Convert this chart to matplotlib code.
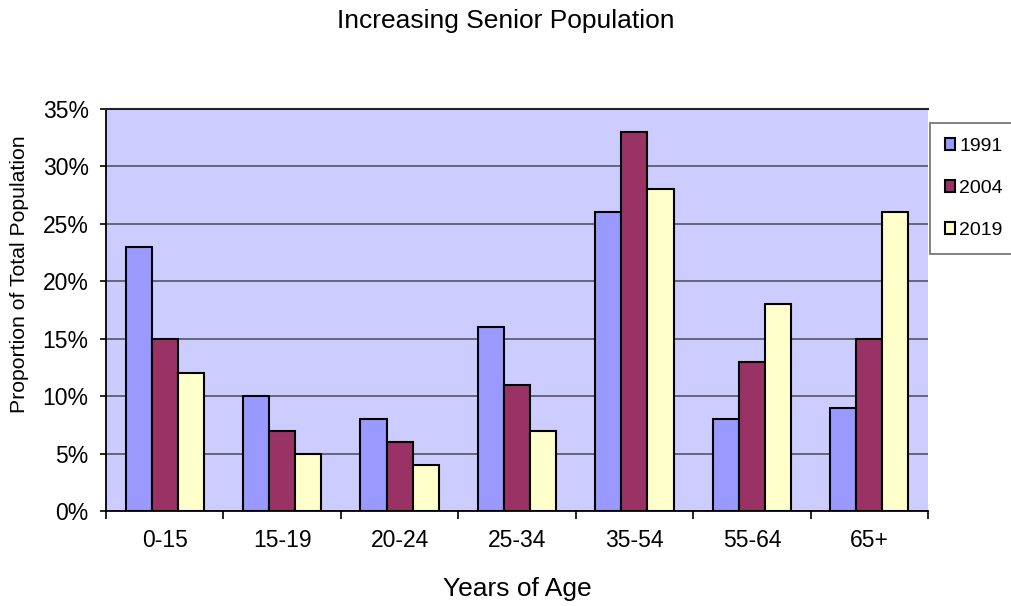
import matplotlib
matplotlib.use("Agg")
import matplotlib.pyplot as plt
import numpy as np
from matplotlib.ticker import FuncFormatter, MultipleLocator

plt.rcParams['font.family'] = ['Liberation Sans', 'DejaVu Sans']

age_groups = ["0-15", "15-19", "20-24", "25-34", "35-54", "55-64", "65+"]
years = ["1991", "2004", "2019"]
share_1991 = [23, 10, 8, 16, 26, 8, 9]
share_2004 = [15, 7, 6, 11, 33, 13, 15]
share_2019 = [12, 5, 4, 7, 28, 18, 26]
series = [share_1991, share_2004, share_2019]
colors = ["#9999FF", "#993366", "#FFFFCC"]

W, H = 1012, 606
fig = plt.figure(figsize=(W / 100, H / 100), dpi=100)
ax = fig.add_axes([106 / W, 1 - 511 / H, (928 - 106) / W, (511 - 109) / H])
ax.set_facecolor("#CCCCFF")

x = np.arange(len(age_groups))
bw = 1 / 4.5
for i, (vals, c, lab) in enumerate(zip(series, colors, years)):
    ax.bar(x + (i - 1) * bw, vals, width=bw, color=c, edgecolor="black",
           linewidth=1.5, label=lab, zorder=3)

ax.set_xlim(-0.5, len(age_groups) - 0.5)
ax.set_ylim(0, 35)
ax.yaxis.set_major_locator(MultipleLocator(5))
ax.yaxis.set_major_formatter(FuncFormatter(lambda v, p: f"{v:.0f}%"))
ax.grid(axis="y", color="#666677", linewidth=1.4, zorder=1)
ax.set_xticks(x)
ax.set_xticklabels(age_groups)
ax.set_xticks(np.arange(len(age_groups) + 1) - 0.5, minor=True)
ax.tick_params(axis="x", which="major", length=0, pad=13, labelsize=16.5)
ax.tick_params(axis="x", which="minor", length=5.5, width=1.2, direction="out")
ax.tick_params(axis="y", length=4.5, width=1.2, direction="out", labelsize=16.5, pad=8)

ax.spines["right"].set_visible(False)
ax.spines["top"].set_color("#222222")
ax.spines["top"].set_linewidth(1.5)
for s in ["left", "bottom"]:
    ax.spines[s].set_color("black")
    ax.spines[s].set_linewidth(1.3)

ax.set_xlabel("Years of Age", fontsize=19)
ax.xaxis.set_label_coords(0.5, -(589 - 511) / (511 - 109), transform=ax.transAxes)
ax.xaxis.label.set_va("center")
ax.set_ylabel("Proportion of Total Population", fontsize=15.3)
ax.yaxis.set_label_coords(-(106 - 19) / (928 - 106), (511 - 274) / (511 - 109),
                          transform=ax.transAxes)
ax.yaxis.label.set_va("center")
fig.text(0.5, 1 - 21 / H, "Increasing Senior Population", fontsize=19,
         ha="center", va="center")

leg = ax.legend(loc="upper left", bbox_to_anchor=(930 / W, 1 - 123 / H),
                bbox_transform=fig.transFigure, frameon=True, fancybox=False,
                fontsize=14, handlelength=0.55, handleheight=0.55, handletextpad=0.2,
                labelspacing=1.3, borderpad=0.75, borderaxespad=0)
leg.get_frame().set_edgecolor("#555555")
leg.get_frame().set_linewidth(1.3)
for h in leg.legend_handles:
    h.set_linewidth(1.5)

fig.savefig("out.png", dpi=100)
